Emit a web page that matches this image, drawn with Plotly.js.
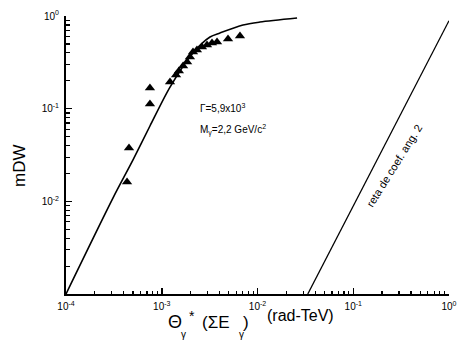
<!DOCTYPE html>
<html><head><meta charset="utf-8">
<script src="https://cdn.plot.ly/plotly-3.0.1.min.js"></script>
<style>html,body{margin:0;padding:0;background:#fff;}#chart{width:457px;height:342px;}</style>
</head><body><div id="chart"></div>
<script>
// measured points (triangles)
const pointsX = [4.34e-4, 4.55e-4, 7.53e-4, 7.53e-4, 1.22e-3, 1.41e-3, 1.51e-3, 1.67e-3, 1.84e-3, 1.97e-3, 2.12e-3, 2.33e-3, 2.63e-3, 2.97e-3, 3.35e-3, 3.78e-3, 4.92e-3, 6.56e-3];
const pointsY = [0.0162, 0.0377, 0.112, 0.167, 0.194, 0.231, 0.255, 0.289, 0.319, 0.361, 0.409, 0.430, 0.463, 0.487, 0.511, 0.524, 0.565, 0.608];
// theoretical curve
const curveX = [1.0e-4, 3.10e-4, 5.01e-4, 7.53e-4, 1.22e-3, 2.12e-3, 3.19e-3, 4.06e-3, 7.06e-3, 1.06e-2, 2.59e-2];
const curveY = [1.0e-3, 1.09e-2, 2.80e-2, 0.065, 0.171, 0.399, 0.593, 0.656, 0.80, 0.86, 0.95];
// straight line of slope 2
const slopeLineX = [0.0335, 1.0];
const slopeLineY = [0.001, 0.89];
// ticks
const xTickVals = [1e-4, 1e-3, 1e-2, 1e-1, 1];
const xTickText = ['10<sup>-4</sup>', '10<sup>-3</sup>', '10<sup>-2</sup>', '10<sup>-1</sup>', '10<sup>0</sup>'];
const yTickVals = [1e-2, 1e-1, 1];
const yTickText = ['10<sup>-2</sup>', '10<sup>-1</sup>', '10<sup>0</sup>'];
const xDecades = [-4, -3, -2, -1];
const yDecades = [-3, -2, -1];

function minorVals(decs) {
  const v = [];
  decs.forEach(d => { for (let k = 2; k <= 9; k++) v.push(k * Math.pow(10, d)); });
  return v;
}

const FONT = 'Liberation Sans, Arial, Helvetica, sans-serif';
const px = (x) => (x - 66) / 383;
const py = (y) => (294 - y) / 278;
function ann(x, y, text, size, extra) {
  return Object.assign({xref: 'paper', yref: 'paper', x: px(x), y: py(y), text: text, showarrow: false,
    xanchor: 'center', yanchor: 'middle', font: {family: FONT, size: size, color: '#000'}}, extra || {});
}

const traces = [
  {x: curveX, y: curveY, mode: 'lines', line: {color: '#000', width: 1.6, shape: 'spline', smoothing: 0.8}, hoverinfo: 'skip'},
  {x: slopeLineX, y: slopeLineY, mode: 'lines', line: {color: '#000', width: 1.3}, hoverinfo: 'skip'},
  {x: pointsX, y: pointsY, mode: 'markers', marker: {symbol: 'triangle-up', size: 9, color: '#000'}}
];

const axisCommon = {
  type: 'log', showgrid: false, zeroline: false, showline: true, linecolor: '#000', linewidth: 2,
  ticks: 'inside', ticklen: 6, tickwidth: 1.5, tickcolor: '#000', tickmode: 'array',
  tickfont: {family: FONT, size: 10, color: '#000'}, mirror: false
};

const layout = {
  width: 457, height: 342,
  margin: {l: 66, r: 8, t: 16, b: 48, pad: 0},
  paper_bgcolor: '#fff', plot_bgcolor: '#fff',
  showlegend: false,
  xaxis: Object.assign({}, axisCommon, {
    range: [-4, 0], tickvals: xTickVals, ticktext: xTickText, ticklabelstandoff: 2,
    minor: {ticks: 'inside', ticklen: 3, tickwidth: 1.2, tickcolor: '#000', tickmode: 'array', tickvals: minorVals(xDecades), showgrid: false}
  }),
  yaxis: Object.assign({}, axisCommon, {
    range: [-3, 0], tickvals: yTickVals, ticktext: yTickText, ticklabelstandoff: 3,
    minor: {ticks: 'inside', ticklen: 4, tickwidth: 1.2, tickcolor: '#000', tickmode: 'array', tickvals: minorVals(yDecades), showgrid: false}
  }),
  annotations: [
    ann(19, 166, 'mDW', 17, {textangle: -90}),
    ann(198, 108, 'Γ=5,9x10<sup>3</sup>', 10, {xanchor: 'left'}),
    ann(198, 130, 'M<sub>γ</sub>=2,2 GeV/c<sup>2</sup>', 10, {xanchor: 'left'}),
    ann(394, 166, 'reta de coef. ang. 2', 11, {textangle: -58}),
    // x-axis title pieces
    ann(175, 322, 'Θ', 18),
    ann(192, 316, '*', 14),
    ann(183, 334, 'γ', 10),
    ann(200, 322, '(ΣE', 17, {xanchor: 'left'}),
    ann(241, 334, 'γ', 10),
    ann(246, 322, ')', 17),
    ann(265, 315, '(rad-TeV)', 16, {xanchor: 'left'})
  ]
};

Plotly.newPlot('chart', traces, layout, {staticPlot: true, displayModeBar: false});
</script>
</body></html>
